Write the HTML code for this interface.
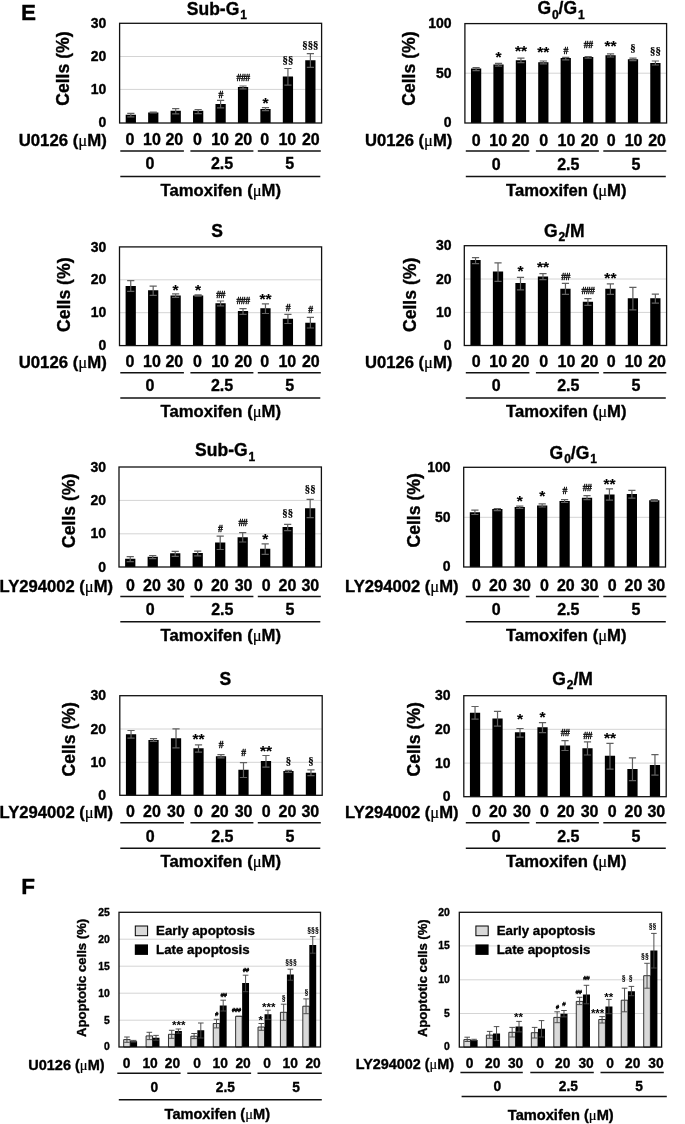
<!DOCTYPE html>
<html lang="en"><head><meta charset="utf-8"><title>Figure E-F</title>
<style>
html,body{margin:0;padding:0;background:#fff}
svg{display:block;will-change:transform;transform:translateZ(0)}
text{font-family:"Liberation Sans", sans-serif;font-weight:700;fill:#000;stroke:#000;stroke-width:.35;stroke-linejoin:round}
.b{fill:#000}
.gb{fill:#d9d9d9;stroke:#000;stroke-width:.8}
.e{fill:none;stroke:#606060;stroke-width:1.2}
.ef{fill:none;stroke:#484848;stroke-width:.95}
.g{fill:none;stroke:#d4d4d4;stroke-width:1}
.f{fill:none;stroke:#111;stroke-width:1.3}
.u{fill:none;stroke:#111;stroke-width:1.5}
.yt{font-size:14px;text-anchor:end}
.yf{font-size:10.4px;text-anchor:end}
.cl{font-size:17.6px;text-anchor:middle}
.al{font-size:13.1px;text-anchor:middle}
.t{font-size:17.5px}
.sub{font-size:12px}
.pl{font-size:22.5px}
.xl{font-size:16px}
.xn{font-size:16px}
.xf{font-size:14.2px}
.xfn{font-size:13.8px}
.m{text-anchor:middle}
.mu{font-family:"Liberation Serif", serif;font-weight:400;stroke-width:.2}
.a{font-size:15.5px;text-anchor:middle;stroke-width:.1}
.as{font-size:11.5px;text-anchor:middle;stroke-width:0}
.h{font-family:"Liberation Serif", serif;font-size:9.8px;text-anchor:middle;stroke-width:.3;letter-spacing:-.6px}
.hs{font-size:5.9px;text-anchor:middle;fill:#000;stroke-width:.35;letter-spacing:-.3px;font-style:italic}
.s{font-family:"Liberation Serif", serif;font-size:10.8px;text-anchor:middle;stroke-width:.2}
.ss{font-family:"Liberation Serif", serif;font-size:7.8px;text-anchor:middle;stroke-width:.15}
.lt{font-size:13px}
.lg{fill:#d9d9d9;stroke:#000;stroke-width:1}
.lb{fill:#000}
</style></head>
<body>
<svg width="685" height="1124" viewBox="0 0 685 1124">
<rect width="685" height="1124" fill="#fff"/>
<path class="g" d="M119.6 56.5H321.6"/>
<path class="g" d="M119.6 89.4H321.6"/>
<path class="b" d="M125.7 123H135.95V114.8H125.7ZM148.14 123H158.39V112.4H148.14ZM170.59 123H180.84V110.8H170.59ZM193.03 123H203.28V110.8H193.03ZM215.48 123H225.73V104.1H215.48ZM237.92 123H248.17V87.1H237.92ZM260.36 123H270.61V109H260.36ZM282.81 123H293.06V76.4H282.81ZM305.25 123H315.5V60.3H305.25Z"/>
<path class="e" d="M127.22 113.3H134.42M127.22 116.8H134.42M130.82 113.3V116.8"/>
<path class="e" d="M149.67 112H156.87M149.67 112.9H156.87M153.27 112V112.9"/>
<path class="e" d="M172.11 108.7H179.31M172.11 113.9H179.31M175.71 108.7V113.9"/>
<path class="e" d="M194.56 109.5H201.76M194.56 113.6H201.76M198.16 109.5V113.6"/>
<path class="e" d="M217 100.4H224.2M217 107.9H224.2M220.6 100.4V107.9"/>
<path class="e" d="M239.44 86H246.64M239.44 88.9H246.64M243.04 86V88.9"/>
<path class="e" d="M261.89 107.6H269.09M261.89 110.7H269.09M265.49 107.6V110.7"/>
<path class="e" d="M284.33 68.5H291.53M284.33 85.2H291.53M287.93 68.5V85.2"/>
<path class="e" d="M306.78 53.6H313.98M306.78 67.3H313.98M310.38 53.6V67.3"/>
<rect class="f" x="119.6" y="23.3" width="202" height="99.7"/>
<text class="h" x="220.6" y="97.8">#</text>
<text class="h" x="243.04" y="80.6">###</text>
<text class="a" x="265.49" y="108.4">*</text>
<text class="s" x="287.93" y="63.2">§§</text>
<text class="s" x="310.38" y="48.2">§§§</text>
<path class="g" d="M464.9 73.2H666.6"/>
<path class="b" d="M470.98 123H481.23V68.6H470.98ZM493.39 123H503.64V64.6H493.39ZM515.8 123H526.05V60.2H515.8ZM538.21 123H548.46V62.2H538.21ZM560.62 123H570.88V58.1H560.62ZM583.04 123H593.29V57H583.04ZM605.45 123H615.7V55.3H605.45ZM627.86 123H638.11V59.3H627.86ZM650.27 123H660.52V63H650.27Z"/>
<path class="e" d="M472.51 67.5H479.71M472.51 70.7H479.71M476.11 67.5V70.7"/>
<path class="e" d="M494.92 63.4H502.12M494.92 66.2H502.12M498.52 63.4V66.2"/>
<path class="e" d="M517.33 58.1H524.53M517.33 62.6H524.53M520.93 58.1V62.6"/>
<path class="e" d="M539.74 61H546.94M539.74 63.8H546.94M543.34 61V63.8"/>
<path class="e" d="M562.15 57.3H569.35M562.15 59.8H569.35M565.75 57.3V59.8"/>
<path class="e" d="M584.56 56.5H591.76M584.56 58.1H591.76M588.16 56.5V58.1"/>
<path class="e" d="M606.97 53.8H614.17M606.97 57H614.17M610.57 53.8V57"/>
<path class="e" d="M629.38 58.1H636.58M629.38 60.6H636.58M632.98 58.1V60.6"/>
<path class="e" d="M651.79 61H658.99M651.79 65H658.99M655.39 61V65"/>
<rect class="f" x="464.9" y="23.6" width="201.7" height="99.4"/>
<text class="a" x="498.52" y="62.1">*</text>
<text class="a" x="520.93" y="56.2">**</text>
<text class="a" x="543.34" y="56.5">**</text>
<text class="h" x="565.75" y="53.6">#</text>
<text class="h" x="588.16" y="48.3">##</text>
<text class="a" x="610.57" y="50.9">**</text>
<text class="s" x="632.98" y="50.8">§</text>
<text class="s" x="655.39" y="53.7">§§</text>
<path class="g" d="M119.5 279.8H321.6"/>
<path class="g" d="M119.5 312.7H321.6"/>
<path class="b" d="M125.6 345.6H135.85V286.1H125.6ZM148.06 345.6H158.31V290.3H148.06ZM170.51 345.6H180.76V295.4H170.51ZM192.97 345.6H203.22V295.4H192.97ZM215.43 345.6H225.68V303.2H215.43ZM237.88 345.6H248.13V311.1H237.88ZM260.34 345.6H270.59V308.2H260.34ZM282.79 345.6H293.04V318.7H282.79ZM305.25 345.6H315.5V322.7H305.25Z"/>
<path class="e" d="M127.13 280.6H134.33M127.13 291.4H134.33M130.73 280.6V291.4"/>
<path class="e" d="M149.58 286.1H156.78M149.58 295.4H156.78M153.18 286.1V295.4"/>
<path class="e" d="M172.04 293.8H179.24M172.04 297.3H179.24M175.64 293.8V297.3"/>
<path class="e" d="M194.49 294.9H201.69M194.49 296.2H201.69M198.09 294.9V296.2"/>
<path class="e" d="M216.95 301H224.15M216.95 305.8H224.15M220.55 301V305.8"/>
<path class="e" d="M239.41 308.6H246.61M239.41 314.4H246.61M243.01 308.6V314.4"/>
<path class="e" d="M261.86 303.8H269.06M261.86 313.5H269.06M265.46 303.8V313.5"/>
<path class="e" d="M284.32 314.4H291.52M284.32 323.5H291.52M287.92 314.4V323.5"/>
<path class="e" d="M306.77 317.4H313.97M306.77 328H313.97M310.37 317.4V328"/>
<rect class="f" x="119.5" y="246.9" width="202.1" height="98.7"/>
<text class="a" x="175.64" y="294.6">*</text>
<text class="a" x="198.09" y="294.6">*</text>
<text class="h" x="220.55" y="297.6">##</text>
<text class="h" x="243.01" y="303.7">###</text>
<text class="a" x="265.46" y="304.2">**</text>
<text class="h" x="287.92" y="310.9">#</text>
<text class="h" x="310.37" y="312.5">#</text>
<path class="g" d="M464.3 279H666.6"/>
<path class="g" d="M464.3 312.4H666.6"/>
<path class="b" d="M470.41 345.5H480.66V260.1H470.41ZM492.89 345.5H503.14V271.6H492.89ZM515.37 345.5H525.62V283H515.37ZM537.85 345.5H548.1V276.5H537.85ZM560.33 345.5H570.58V288.7H560.33ZM582.8 345.5H593.05V301.8H582.8ZM605.28 345.5H615.53V288.7H605.28ZM627.76 345.5H638.01V298.3H627.76ZM650.24 345.5H660.49V298.3H650.24Z"/>
<path class="e" d="M471.94 257.7H479.14M471.94 263.6H479.14M475.54 257.7V263.6"/>
<path class="e" d="M494.42 262.8H501.62M494.42 281.4H501.62M498.02 262.8V281.4"/>
<path class="e" d="M516.89 277.3H524.09M516.89 289.8H524.09M520.49 277.3V289.8"/>
<path class="e" d="M539.37 273.7H546.57M539.37 279.7H546.57M542.97 273.7V279.7"/>
<path class="e" d="M561.85 283.4H569.05M561.85 294.3H569.05M565.45 283.4V294.3"/>
<path class="e" d="M584.33 298.6H591.53M584.33 305.4H591.53M587.93 298.6V305.4"/>
<path class="e" d="M606.81 283.8H614.01M606.81 294.3H614.01M610.41 283.8V294.3"/>
<path class="e" d="M629.28 287.4H636.48M629.28 309.9H636.48M632.88 287.4V309.9"/>
<path class="e" d="M651.76 294.1H658.96M651.76 303.1H658.96M655.36 294.1V303.1"/>
<rect class="f" x="464.3" y="245.7" width="202.3" height="99.8"/>
<text class="a" x="520.49" y="276.1">*</text>
<text class="a" x="542.97" y="272.4">**</text>
<text class="h" x="565.45" y="280.1">##</text>
<text class="h" x="587.93" y="293.6">###</text>
<text class="a" x="610.41" y="282.5">**</text>
<path class="g" d="M119 500.4H321.4"/>
<path class="g" d="M119 533.8H321.4"/>
<path class="b" d="M125.12 567H135.37V558.8H125.12ZM147.61 567H157.86V556.7H147.61ZM170.1 567H180.35V553.2H170.1ZM192.59 567H202.84V553.1H192.59ZM215.07 567H225.32V542.6H215.07ZM237.56 567H247.81V537.2H237.56ZM260.05 567H270.3V548.7H260.05ZM282.54 567H292.79V527H282.54ZM305.03 567H315.28V508.3H305.03Z"/>
<path class="e" d="M126.64 556.7H133.84M126.64 561.6H133.84M130.24 556.7V561.6"/>
<path class="e" d="M149.13 555.5H156.33M149.13 558.7H156.33M152.73 555.5V558.7"/>
<path class="e" d="M171.62 551.4H178.82M171.62 556.3H178.82M175.22 551.4V556.3"/>
<path class="e" d="M194.11 551.1H201.31M194.11 555.9H201.31M197.71 551.1V555.9"/>
<path class="e" d="M216.6 536.2H223.8M216.6 549.5H223.8M220.2 536.2V549.5"/>
<path class="e" d="M239.09 532.7H246.29M239.09 542H246.29M242.69 532.7V542"/>
<path class="e" d="M261.58 543.9H268.78M261.58 554.3H268.78M265.18 543.9V554.3"/>
<path class="e" d="M284.07 524.3H291.27M284.07 530.6H291.27M287.67 524.3V530.6"/>
<path class="e" d="M306.56 499.3H313.76M306.56 517.7H313.76M310.16 499.3V517.7"/>
<rect class="f" x="119" y="467" width="202.4" height="100"/>
<text class="h" x="220.2" y="531.8">#</text>
<text class="h" x="242.69" y="526">##</text>
<text class="a" x="265.18" y="544.2">*</text>
<text class="s" x="287.67" y="515.8">§§</text>
<text class="s" x="310.16" y="492.1">§§</text>
<path class="g" d="M463.7 517.3H665.5"/>
<path class="b" d="M469.79 567H480.04V512.3H469.79ZM492.21 567H502.46V509.1H492.21ZM514.63 567H524.88V507H514.63ZM537.05 567H547.3V505.4H537.05ZM559.48 567H569.73V501H559.48ZM581.9 567H592.15V497.7H581.9ZM604.32 567H614.57V494.4H604.32ZM626.74 567H636.99V494.1H626.74ZM649.16 567H659.41V500.2H649.16Z"/>
<path class="e" d="M471.31 510.2H478.51M471.31 514.5H478.51M474.91 510.2V514.5"/>
<path class="e" d="M493.73 508.6H500.93M493.73 510.7H500.93M497.33 508.6V510.7"/>
<path class="e" d="M516.16 506.2H523.36M516.16 508.3H523.36M519.76 506.2V508.3"/>
<path class="e" d="M538.58 503.8H545.78M538.58 507H545.78M542.18 503.8V507"/>
<path class="e" d="M561 499.7H568.2M561 502.5H568.2M564.6 499.7V502.5"/>
<path class="e" d="M583.42 495.7H590.62M583.42 499.7H590.62M587.02 495.7V499.7"/>
<path class="e" d="M605.84 488.8H613.04M605.84 500.2H613.04M609.44 488.8V500.2"/>
<path class="e" d="M628.27 490.4H635.47M628.27 498.1H635.47M631.87 490.4V498.1"/>
<path class="e" d="M650.69 499.7H657.89M650.69 501.3H657.89M654.29 499.7V501.3"/>
<rect class="f" x="463.7" y="467.3" width="201.8" height="99.7"/>
<text class="a" x="519.76" y="506.1">*</text>
<text class="a" x="542.18" y="500.5">*</text>
<text class="h" x="564.6" y="494.4">#</text>
<text class="h" x="587.02" y="491.2">##</text>
<text class="a" x="609.44" y="489.3">**</text>
<path class="g" d="M119.8 729H322.2"/>
<path class="g" d="M119.8 762.3H322.2"/>
<path class="b" d="M125.92 795.3H136.17V734.2H125.92ZM148.41 795.3H158.66V740.1H148.41ZM170.9 795.3H181.15V738.2H170.9ZM193.39 795.3H203.64V748.3H193.39ZM215.88 795.3H226.12V756.2H215.88ZM238.36 795.3H248.61V769.8H238.36ZM260.85 795.3H271.1V761.1H260.85ZM283.34 795.3H293.59V771.1H283.34ZM305.83 795.3H316.08V772.7H305.83Z"/>
<path class="e" d="M127.44 730.5H134.64M127.44 738.2H134.64M131.04 730.5V738.2"/>
<path class="e" d="M149.93 738.7H157.13M149.93 741.4H157.13M153.53 738.7V741.4"/>
<path class="e" d="M172.42 728.9H179.62M172.42 747.8H179.62M176.02 728.9V747.8"/>
<path class="e" d="M194.91 744.9H202.11M194.91 752.1H202.11M198.51 744.9V752.1"/>
<path class="e" d="M217.4 754.7H224.6M217.4 757.9H224.6M221 754.7V757.9"/>
<path class="e" d="M239.89 762.6H247.09M239.89 777.5H247.09M243.49 762.6V777.5"/>
<path class="e" d="M262.38 755.5H269.58M262.38 767.1H269.58M265.98 755.5V767.1"/>
<path class="e" d="M284.87 770.3H292.07M284.87 772.4H292.07M288.47 770.3V772.4"/>
<path class="e" d="M307.36 769.8H314.56M307.36 775.6H314.56M310.96 769.8V775.6"/>
<rect class="f" x="119.8" y="695.7" width="202.4" height="99.6"/>
<text class="a" x="198.51" y="744.1">**</text>
<text class="h" x="221" y="747.8">#</text>
<text class="h" x="243.49" y="756.1">#</text>
<text class="a" x="265.98" y="756.3">**</text>
<text class="s" x="288.47" y="763.9">§</text>
<text class="s" x="310.96" y="764.2">§</text>
<path class="g" d="M463.8 729.3H666.2"/>
<path class="g" d="M463.8 763.1H666.2"/>
<path class="b" d="M469.92 796.7H480.17V712.8H469.92ZM492.41 796.7H502.66V718.6H492.41ZM514.9 796.7H525.15V732.2H514.9ZM537.39 796.7H547.64V727.3H537.39ZM559.88 796.7H570.12V745.4H559.88ZM582.36 796.7H592.61V748.3H582.36ZM604.85 796.7H615.1V755.8H604.85ZM627.34 796.7H637.59V769H627.34ZM649.83 796.7H660.08V765H649.83Z"/>
<path class="e" d="M471.44 706.5H478.64M471.44 719.2H478.64M475.04 706.5V719.2"/>
<path class="e" d="M493.93 711.4H501.13M493.93 726.1H501.13M497.53 711.4V726.1"/>
<path class="e" d="M516.42 728.5H523.62M516.42 737.1H523.62M520.02 728.5V737.1"/>
<path class="e" d="M538.91 722.6H546.11M538.91 732.6H546.11M542.51 722.6V732.6"/>
<path class="e" d="M561.4 740.6H568.6M561.4 750.5H568.6M565 740.6V750.5"/>
<path class="e" d="M583.89 741.9H591.09M583.89 755H591.09M587.49 741.9V755"/>
<path class="e" d="M606.38 743.3H613.58M606.38 769.2H613.58M609.98 743.3V769.2"/>
<path class="e" d="M628.87 757.9H636.07M628.87 780.7H636.07M632.47 757.9V780.7"/>
<path class="e" d="M651.36 754.7H658.56M651.36 775.1H658.56M654.96 754.7V775.1"/>
<rect class="f" x="463.8" y="695.7" width="202.4" height="101"/>
<text class="a" x="520.02" y="724.2">*</text>
<text class="a" x="542.51" y="722.1">*</text>
<text class="h" x="565" y="736">##</text>
<text class="h" x="587.49" y="738.5">##</text>
<text class="a" x="609.98" y="742.6">**</text>
<text class="yt" x="106.3" y="27.9">30</text>
<text class="yt" x="106.3" y="61.1">20</text>
<text class="yt" x="106.3" y="94">10</text>
<text class="yt" x="106.3" y="127.2">0</text>
<text class="yt" x="451.5" y="27.9">100</text>
<text class="yt" x="451.5" y="77.8">50</text>
<text class="yt" x="451.5" y="127.2">0</text>
<text class="yt" x="106.3" y="251.5">30</text>
<text class="yt" x="106.3" y="284.4">20</text>
<text class="yt" x="106.3" y="317.3">10</text>
<text class="yt" x="106.3" y="350.3">0</text>
<text class="yt" x="451.5" y="250.2">30</text>
<text class="yt" x="451.5" y="283.6">20</text>
<text class="yt" x="451.5" y="317">10</text>
<text class="yt" x="451.5" y="350.3">0</text>
<text class="yt" x="106" y="471.6">30</text>
<text class="yt" x="106" y="505">20</text>
<text class="yt" x="106" y="538.4">10</text>
<text class="yt" x="106" y="571.5">0</text>
<text class="yt" x="450.5" y="471.5">100</text>
<text class="yt" x="450.5" y="521.5">50</text>
<text class="yt" x="450.5" y="571.4">0</text>
<text class="yt" x="106" y="700.2">30</text>
<text class="yt" x="106" y="733.6">20</text>
<text class="yt" x="106" y="766.9">10</text>
<text class="yt" x="106" y="800.1">0</text>
<text class="yt" x="450.5" y="700.2">30</text>
<text class="yt" x="450.5" y="733.9">20</text>
<text class="yt" x="450.5" y="767.7">10</text>
<text class="yt" x="450.5" y="800.6">0</text>
<text class="cl" transform="translate(69.4 68.6) rotate(-90)" textLength="74.4" lengthAdjust="spacingAndGlyphs">Cells (%)</text>
<text class="cl" transform="translate(414.7 68.6) rotate(-90)" textLength="74.4" lengthAdjust="spacingAndGlyphs">Cells (%)</text>
<text class="cl" transform="translate(69.6 294.7) rotate(-90)" textLength="74.4" lengthAdjust="spacingAndGlyphs">Cells (%)</text>
<text class="cl" transform="translate(415.6 294.9) rotate(-90)" textLength="74.4" lengthAdjust="spacingAndGlyphs">Cells (%)</text>
<text class="cl" transform="translate(75 510.8) rotate(-90)" textLength="74.4" lengthAdjust="spacingAndGlyphs">Cells (%)</text>
<text class="cl" transform="translate(420.3 510.4) rotate(-90)" textLength="74.4" lengthAdjust="spacingAndGlyphs">Cells (%)</text>
<text class="cl" transform="translate(75 739.4) rotate(-90)" textLength="74.4" lengthAdjust="spacingAndGlyphs">Cells (%)</text>
<text class="cl" transform="translate(420.3 739.4) rotate(-90)" textLength="74.4" lengthAdjust="spacingAndGlyphs">Cells (%)</text>
<text class="t" x="186.8" y="14.6">Sub-G<tspan class="sub" dx="0.9" dy="4.3">1</tspan><tspan dy="-4.3" font-size="1">​</tspan></text>
<text class="t" x="537.4" y="14.3">G<tspan class="sub" dx="0.9" dy="4.3">0</tspan><tspan dy="-4.3" font-size="1">​</tspan>/G<tspan class="sub" dx="0.9" dy="4.3">1</tspan><tspan dy="-4.3" font-size="1">​</tspan></text>
<text class="t" x="211.3" y="236.7">S</text>
<text class="t" x="543.9" y="236.6">G<tspan class="sub" dx="0.9" dy="4.3">2</tspan><tspan dy="-4.3" font-size="1">​</tspan>/M</text>
<text class="t" x="195.1" y="456.2">Sub-G<tspan class="sub" dx="0.9" dy="4.3">1</tspan><tspan dy="-4.3" font-size="1">​</tspan></text>
<text class="t" x="549.6" y="459.1">G<tspan class="sub" dx="0.9" dy="4.3">0</tspan><tspan dy="-4.3" font-size="1">​</tspan>/G<tspan class="sub" dx="0.9" dy="4.3">1</tspan><tspan dy="-4.3" font-size="1">​</tspan></text>
<text class="t" x="219.5" y="684.9">S</text>
<text class="t" x="552.3" y="684.5">G<tspan class="sub" dx="0.9" dy="4.3">2</tspan><tspan dy="-4.3" font-size="1">​</tspan>/M</text>
<text class="pl" x="21.0" y="20.0">E</text>
<text class="pl" x="21.2" y="893.7">F</text>
<text class="xl" x="18.7" y="145.9" textLength="88.1" lengthAdjust="spacingAndGlyphs">U0126 (<tspan class="mu">μ</tspan>M)</text>
<text class="xn m" x="130" y="145">0</text>
<text class="xn m" x="151.9" y="145">10</text>
<text class="xn m" x="174.3" y="145">20</text>
<text class="xn m" x="197.5" y="145">0</text>
<text class="xn m" x="220.1" y="145">10</text>
<text class="xn m" x="243.3" y="145">20</text>
<text class="xn m" x="264.8" y="145">0</text>
<text class="xn m" x="287.3" y="145">10</text>
<text class="xn m" x="310.8" y="145">20</text>
<path class="u" d="M120.3 151H183.9"/>
<path class="u" d="M190.4 151H253.4"/>
<path class="u" d="M257.8 151H320.8"/>
<text class="xn m" x="150" y="169.4">0</text>
<text class="xn m" x="222" y="169.4">2.5</text>
<text class="xn m" x="289.6" y="169.4">5</text>
<path class="u" d="M120.3 176.4H320.3"/>
<text class="xl" x="160.6" y="195.6" textLength="120.4" lengthAdjust="spacingAndGlyphs">Tamoxifen (<tspan class="mu">μ</tspan>M)</text>
<text class="xl" x="365" y="146.4" textLength="87.3" lengthAdjust="spacingAndGlyphs">U0126 (<tspan class="mu">μ</tspan>M)</text>
<text class="xn m" x="476.3" y="145.5">0</text>
<text class="xn m" x="498.2" y="145.5">10</text>
<text class="xn m" x="520.6" y="145.5">20</text>
<text class="xn m" x="543.8" y="145.5">0</text>
<text class="xn m" x="566.4" y="145.5">10</text>
<text class="xn m" x="589.6" y="145.5">20</text>
<text class="xn m" x="611.1" y="145.5">0</text>
<text class="xn m" x="633.6" y="145.5">10</text>
<text class="xn m" x="657.1" y="145.5">20</text>
<path class="u" d="M465.8 151H529.4"/>
<path class="u" d="M535.9 151H598.9"/>
<path class="u" d="M603.3 151H666.3"/>
<text class="xn m" x="496.3" y="169.9">0</text>
<text class="xn m" x="568.3" y="169.9">2.5</text>
<text class="xn m" x="635.9" y="169.9">5</text>
<path class="u" d="M465.8 176.4H665.8"/>
<text class="xl" x="506.1" y="195.6" textLength="120.4" lengthAdjust="spacingAndGlyphs">Tamoxifen (<tspan class="mu">μ</tspan>M)</text>
<text class="xl" x="18.7" y="367.6" textLength="88.1" lengthAdjust="spacingAndGlyphs">U0126 (<tspan class="mu">μ</tspan>M)</text>
<text class="xn m" x="130" y="366.7">0</text>
<text class="xn m" x="151.9" y="366.7">10</text>
<text class="xn m" x="174.3" y="366.7">20</text>
<text class="xn m" x="197.5" y="366.7">0</text>
<text class="xn m" x="220.1" y="366.7">10</text>
<text class="xn m" x="243.3" y="366.7">20</text>
<text class="xn m" x="264.8" y="366.7">0</text>
<text class="xn m" x="287.3" y="366.7">10</text>
<text class="xn m" x="310.8" y="366.7">20</text>
<path class="u" d="M120.3 372.7H183.9"/>
<path class="u" d="M190.4 372.7H253.4"/>
<path class="u" d="M257.8 372.7H320.8"/>
<text class="xn m" x="150" y="391.1">0</text>
<text class="xn m" x="222" y="391.1">2.5</text>
<text class="xn m" x="289.6" y="391.1">5</text>
<path class="u" d="M120.3 398.1H320.3"/>
<text class="xl" x="160.6" y="417.3" textLength="120.4" lengthAdjust="spacingAndGlyphs">Tamoxifen (<tspan class="mu">μ</tspan>M)</text>
<text class="xl" x="365" y="367.8" textLength="87.3" lengthAdjust="spacingAndGlyphs">U0126 (<tspan class="mu">μ</tspan>M)</text>
<text class="xn m" x="476.3" y="366.9">0</text>
<text class="xn m" x="498.2" y="366.9">10</text>
<text class="xn m" x="520.6" y="366.9">20</text>
<text class="xn m" x="543.8" y="366.9">0</text>
<text class="xn m" x="566.4" y="366.9">10</text>
<text class="xn m" x="589.6" y="366.9">20</text>
<text class="xn m" x="611.1" y="366.9">0</text>
<text class="xn m" x="633.6" y="366.9">10</text>
<text class="xn m" x="657.1" y="366.9">20</text>
<path class="u" d="M465.8 372.7H529.4"/>
<path class="u" d="M535.9 372.7H598.9"/>
<path class="u" d="M603.3 372.7H666.3"/>
<text class="xn m" x="496.3" y="391.3">0</text>
<text class="xn m" x="568.3" y="391.3">2.5</text>
<text class="xn m" x="635.9" y="391.3">5</text>
<path class="u" d="M465.8 398.1H665.8"/>
<text class="xl" x="506.1" y="417.3" textLength="120.4" lengthAdjust="spacingAndGlyphs">Tamoxifen (<tspan class="mu">μ</tspan>M)</text>
<text class="xl" x="-0.4" y="591.8" textLength="113.4" lengthAdjust="spacingAndGlyphs">LY294002 (<tspan class="mu">μ</tspan>M)</text>
<text class="xn m" x="130.4" y="590.9">0</text>
<text class="xn m" x="152" y="590.9">20</text>
<text class="xn m" x="176" y="590.9">30</text>
<text class="xn m" x="198.4" y="590.9">0</text>
<text class="xn m" x="219.8" y="590.9">20</text>
<text class="xn m" x="243.6" y="590.9">30</text>
<text class="xn m" x="266.2" y="590.9">0</text>
<text class="xn m" x="287.5" y="590.9">20</text>
<text class="xn m" x="310.3" y="590.9">30</text>
<path class="u" d="M120.3 596.4H183.9"/>
<path class="u" d="M190.4 596.4H253.4"/>
<path class="u" d="M257.8 596.4H320.8"/>
<text class="xn m" x="150.3" y="615.3">0</text>
<text class="xn m" x="222.3" y="615.3">2.5</text>
<text class="xn m" x="289.9" y="615.3">5</text>
<path class="u" d="M120.3 621.8H320.3"/>
<text class="xl" x="160.6" y="641" textLength="120.4" lengthAdjust="spacingAndGlyphs">Tamoxifen (<tspan class="mu">μ</tspan>M)</text>
<text class="xl" x="345" y="591.9" textLength="113.6" lengthAdjust="spacingAndGlyphs">LY294002 (<tspan class="mu">μ</tspan>M)</text>
<text class="xn m" x="476.4" y="591">0</text>
<text class="xn m" x="498" y="591">20</text>
<text class="xn m" x="522" y="591">30</text>
<text class="xn m" x="544.4" y="591">0</text>
<text class="xn m" x="565.8" y="591">20</text>
<text class="xn m" x="589.6" y="591">30</text>
<text class="xn m" x="612.2" y="591">0</text>
<text class="xn m" x="633.5" y="591">20</text>
<text class="xn m" x="656.3" y="591">30</text>
<path class="u" d="M465.8 596.4H529.4"/>
<path class="u" d="M535.9 596.4H598.9"/>
<path class="u" d="M603.3 596.4H666.3"/>
<text class="xn m" x="496.3" y="615.4">0</text>
<text class="xn m" x="568.3" y="615.4">2.5</text>
<text class="xn m" x="635.9" y="615.4">5</text>
<path class="u" d="M465.8 621.8H665.8"/>
<text class="xl" x="506.1" y="641" textLength="120.4" lengthAdjust="spacingAndGlyphs">Tamoxifen (<tspan class="mu">μ</tspan>M)</text>
<text class="xl" x="-0.4" y="818" textLength="113.4" lengthAdjust="spacingAndGlyphs">LY294002 (<tspan class="mu">μ</tspan>M)</text>
<text class="xn m" x="130.4" y="817.1">0</text>
<text class="xn m" x="152" y="817.1">20</text>
<text class="xn m" x="176" y="817.1">30</text>
<text class="xn m" x="198.4" y="817.1">0</text>
<text class="xn m" x="219.8" y="817.1">20</text>
<text class="xn m" x="243.6" y="817.1">30</text>
<text class="xn m" x="266.2" y="817.1">0</text>
<text class="xn m" x="287.5" y="817.1">20</text>
<text class="xn m" x="310.3" y="817.1">30</text>
<path class="u" d="M120.3 822.8H183.9"/>
<path class="u" d="M190.4 822.8H253.4"/>
<path class="u" d="M257.8 822.8H320.8"/>
<text class="xn m" x="150.3" y="841.5">0</text>
<text class="xn m" x="222.3" y="841.5">2.5</text>
<text class="xn m" x="289.9" y="841.5">5</text>
<path class="u" d="M120.3 848.2H320.3"/>
<text class="xl" x="160.6" y="867.4" textLength="120.4" lengthAdjust="spacingAndGlyphs">Tamoxifen (<tspan class="mu">μ</tspan>M)</text>
<text class="xl" x="345" y="818" textLength="113.6" lengthAdjust="spacingAndGlyphs">LY294002 (<tspan class="mu">μ</tspan>M)</text>
<text class="xn m" x="476.4" y="817.1">0</text>
<text class="xn m" x="498" y="817.1">20</text>
<text class="xn m" x="522" y="817.1">30</text>
<text class="xn m" x="544.4" y="817.1">0</text>
<text class="xn m" x="565.8" y="817.1">20</text>
<text class="xn m" x="589.6" y="817.1">30</text>
<text class="xn m" x="612.2" y="817.1">0</text>
<text class="xn m" x="633.5" y="817.1">20</text>
<text class="xn m" x="656.3" y="817.1">30</text>
<path class="u" d="M465.8 822.8H529.4"/>
<path class="u" d="M535.9 822.8H598.9"/>
<path class="u" d="M603.3 822.8H666.3"/>
<text class="xn m" x="496.3" y="841.5">0</text>
<text class="xn m" x="568.3" y="841.5">2.5</text>
<text class="xn m" x="635.9" y="841.5">5</text>
<path class="u" d="M465.8 848.2H665.8"/>
<text class="xl" x="506.1" y="867.4" textLength="120.4" lengthAdjust="spacingAndGlyphs">Tamoxifen (<tspan class="mu">μ</tspan>M)</text>
<path class="g" d="M119 939.2H320.5"/>
<path class="g" d="M119 966.2H320.5"/>
<path class="g" d="M119 993.2H320.5"/>
<path class="g" d="M119 1020.2H320.5"/>
<path class="gb" d="M123.69 1047H130.19V1039.6H123.69ZM146.08 1047H152.58V1035.9H146.08ZM168.47 1047H174.97V1034.3H168.47ZM190.86 1047H197.36V1036.2H190.86ZM213.25 1047H219.75V1023.5H213.25ZM235.64 1047H242.14V1016.3H235.64ZM258.03 1047H264.53V1027H258.03ZM280.42 1047H286.92V1012.3H280.42ZM302.81 1047H309.31V1006.2H302.81Z"/>
<path class="b" d="M130.19 1047H137.09V1041.2H130.19ZM152.58 1047H159.48V1037.8H152.58ZM174.97 1047H181.87V1031.1H174.97ZM197.36 1047H204.26V1030.3H197.36ZM219.75 1047H226.65V1005.4H219.75ZM242.14 1047H249.04V982.9H242.14ZM264.53 1047H271.43V1014.2H264.53ZM286.92 1047H293.82V974.4H286.92ZM309.31 1047H316.21V945.1H309.31Z"/>
<path class="ef" d="M124.14 1037H129.74M124.14 1042.3H129.74M126.94 1037V1042.3"/>
<path class="ef" d="M130.84 1040.4H136.44M130.84 1042H136.44M133.64 1040.4V1042"/>
<path class="ef" d="M146.53 1032.3H152.13M146.53 1039.6H152.13M149.33 1032.3V1039.6"/>
<path class="ef" d="M153.23 1035.4H158.83M153.23 1040.2H158.83M156.03 1035.4V1040.2"/>
<path class="ef" d="M168.92 1030.3H174.52M168.92 1038.3H174.52M171.72 1030.3V1038.3"/>
<path class="ef" d="M175.62 1029H181.22M175.62 1033.2H181.22M178.42 1029V1033.2"/>
<path class="ef" d="M191.31 1033.5H196.91M191.31 1038.6H196.91M194.11 1033.5V1038.6"/>
<path class="ef" d="M198.01 1023H203.61M198.01 1038H203.61M200.81 1023V1038"/>
<path class="ef" d="M213.7 1019.3H219.3M213.7 1027.9H219.3M216.5 1019.3V1027.9"/>
<path class="ef" d="M220.4 1000.2H226M220.4 1011H226M223.2 1000.2V1011"/>
<path class="ef" d="M236.09 1016.3H241.69"/>
<path class="ef" d="M242.79 975.2H248.39M242.79 991.7H248.39M245.59 975.2V991.7"/>
<path class="ef" d="M258.48 1023.5H264.08M258.48 1030.3H264.08M261.28 1023.5V1030.3"/>
<path class="ef" d="M265.18 1010.2H270.78M265.18 1019.3H270.78M267.98 1010.2V1019.3"/>
<path class="ef" d="M280.87 1004.2H286.47M280.87 1020.3H286.47M283.67 1004.2V1020.3"/>
<path class="ef" d="M287.57 969.2H293.17M287.57 980.2H293.17M290.37 969.2V980.2"/>
<path class="ef" d="M303.26 998.9H308.86M303.26 1013.7H308.86M306.06 998.9V1013.7"/>
<path class="ef" d="M309.96 936.6H315.56M309.96 953.2H315.56M312.76 936.6V953.2"/>
<rect class="f" x="119" y="912.3" width="201.5" height="134.7"/>
<text class="as" x="178.8" y="1029.3">***</text>
<text class="hs" x="216.5" y="1015.8">#</text>
<text class="hs" x="223.4" y="996.5">##</text>
<text class="hs" x="236.2" y="1011.5">###</text>
<text class="hs" x="245.8" y="972.1">##</text>
<text class="as" x="260.8" y="1024.2">*</text>
<text class="as" x="268.8" y="1010.9">***</text>
<text class="ss" x="283.7" y="1001.4">§</text>
<text class="ss" x="291" y="964.9">§§§</text>
<text class="ss" x="306.5" y="994.6">§</text>
<text class="ss" x="313" y="932.8">§§§</text>
<rect class="lg" x="135.3" y="926" width="12.3" height="9.7"/>
<rect class="lb" x="134.8" y="944.4" width="13.2" height="10.5"/>
<text class="lt" x="156.1" y="934.8" textLength="98.8" lengthAdjust="spacingAndGlyphs">Early apoptosis</text>
<text class="lt" x="156.1" y="954.1" textLength="93.6" lengthAdjust="spacingAndGlyphs">Late apoptosis</text>
<path class="g" d="M459.3 945.9H661.6"/>
<path class="g" d="M459.3 979.8H661.6"/>
<path class="g" d="M459.3 1013.5H661.6"/>
<path class="gb" d="M463.89 1047.1H470.54V1039.6H463.89ZM486.37 1047.1H493.02V1035.1H486.37ZM508.84 1047.1H515.49V1032.3H508.84ZM531.32 1047.1H537.97V1032.7H531.32ZM553.8 1047.1H560.45V1017.4H553.8ZM576.28 1047.1H582.93V1001.4H576.28ZM598.76 1047.1H605.41V1019.5H598.76ZM621.23 1047.1H627.88V1000.2H621.23ZM643.71 1047.1H650.36V975.7H643.71Z"/>
<path class="b" d="M470.54 1047.1H477.59V1039.9H470.54ZM493.02 1047.1H500.07V1033.5H493.02ZM515.49 1047.1H522.54V1026.6H515.49ZM537.97 1047.1H545.02V1028.7H537.97ZM560.45 1047.1H567.5V1013.7H560.45ZM582.93 1047.1H589.98V994.4H582.93ZM605.41 1047.1H612.46V1006.5H605.41ZM627.88 1047.1H634.93V991.2H627.88ZM650.36 1047.1H657.41V950.4H650.36Z"/>
<path class="ef" d="M464.41 1037.2H470.01M464.41 1041.5H470.01M467.21 1037.2V1041.5"/>
<path class="ef" d="M471.26 1039.3H476.86M471.26 1040.6H476.86M474.06 1039.3V1040.6"/>
<path class="ef" d="M486.89 1031.4H492.49M486.89 1038.3H492.49M489.69 1031.4V1038.3"/>
<path class="ef" d="M493.74 1026.6H499.34M493.74 1040.4H499.34M496.54 1026.6V1040.4"/>
<path class="ef" d="M509.37 1027.4H514.97M509.37 1037H514.97M512.17 1027.4V1037"/>
<path class="ef" d="M516.22 1021.4H521.82M516.22 1031.9H521.82M519.02 1021.4V1031.9"/>
<path class="ef" d="M531.85 1027.4H537.45M531.85 1038H537.45M534.65 1027.4V1038"/>
<path class="ef" d="M538.7 1020.6H544.3M538.7 1037H544.3M541.5 1020.6V1037"/>
<path class="ef" d="M554.33 1011.8H559.93M554.33 1022.7H559.93M557.13 1011.8V1022.7"/>
<path class="ef" d="M561.18 1010.5H566.77M561.18 1016.9H566.77M563.98 1010.5V1016.9"/>
<path class="ef" d="M576.8 997.3H582.4M576.8 1004.6H582.4M579.6 997.3V1004.6"/>
<path class="ef" d="M583.65 985.3H589.25M583.65 1003.8H589.25M586.45 985.3V1003.8"/>
<path class="ef" d="M599.28 1016.6H604.88M599.28 1023H604.88M602.08 1016.6V1023"/>
<path class="ef" d="M606.13 999.4H611.73M606.13 1013.7H611.73M608.93 999.4V1013.7"/>
<path class="ef" d="M621.76 988.2H627.36M621.76 1011.8H627.36M624.56 988.2V1011.8"/>
<path class="ef" d="M628.61 986.4H634.21M628.61 995.7H634.21M631.41 986.4V995.7"/>
<path class="ef" d="M644.24 963.3H649.84M644.24 988.2H649.84M647.04 963.3V988.2"/>
<path class="ef" d="M651.09 933.4H656.69M651.09 968H656.69M653.89 933.4V968"/>
<rect class="f" x="459.3" y="912.3" width="202.3" height="134.8"/>
<text class="as" x="518.6" y="1020.5">**</text>
<text class="hs" x="557.2" y="1009.4">#</text>
<text class="hs" x="563.8" y="1006.2">#</text>
<text class="hs" x="578.6" y="994.1">##</text>
<text class="hs" x="586.3" y="979.7">##</text>
<text class="as" x="597.6" y="1017.3">***</text>
<text class="as" x="608.8" y="1000.9">**</text>
<text class="ss" x="623.7" y="981.3">§</text>
<text class="ss" x="630.8" y="981.3">§</text>
<text class="ss" x="644.9" y="959.3">§§</text>
<text class="ss" x="652.6" y="929.2">§§</text>
<rect class="lg" x="475.9" y="926" width="12.3" height="9.7"/>
<rect class="lb" x="475.4" y="944.4" width="13.2" height="10.5"/>
<text class="lt" x="496.7" y="934.8" textLength="98.8" lengthAdjust="spacingAndGlyphs">Early apoptosis</text>
<text class="lt" x="496.7" y="954.1" textLength="93.6" lengthAdjust="spacingAndGlyphs">Late apoptosis</text>
<text class="yf" x="109.7" y="915.7">25</text>
<text class="yf" x="109.7" y="942.6">20</text>
<text class="yf" x="109.7" y="969.6">15</text>
<text class="yf" x="109.7" y="996.6">10</text>
<text class="yf" x="109.7" y="1023.6">5</text>
<text class="yf" x="109.7" y="1050.4">0</text>
<text class="yf" x="449.9" y="915.7">20</text>
<text class="yf" x="449.9" y="949.3">15</text>
<text class="yf" x="449.9" y="983.2">10</text>
<text class="yf" x="449.9" y="1016.9">5</text>
<text class="yf" x="449.9" y="1050.4">0</text>
<text class="al" transform="translate(86.4 977.9) rotate(-90)" textLength="118.3" lengthAdjust="spacingAndGlyphs">Apoptotic cells (%)</text>
<text class="al" transform="translate(426.5 978.2) rotate(-90)" textLength="117.8" lengthAdjust="spacingAndGlyphs">Apoptotic cells (%)</text>
<text class="xf" x="28.2" y="1070.1" textLength="76.4" lengthAdjust="spacingAndGlyphs">U0126 (<tspan class="mu">μ</tspan>M)</text>
<text class="xfn m" x="126.7" y="1068.4">0</text>
<text class="xfn m" x="150.1" y="1068.4">10</text>
<text class="xfn m" x="172.5" y="1068.4">20</text>
<text class="xfn m" x="197.2" y="1068.4">0</text>
<text class="xfn m" x="220.3" y="1068.4">10</text>
<text class="xfn m" x="243.1" y="1068.4">20</text>
<text class="xfn m" x="267.2" y="1068.4">0</text>
<text class="xfn m" x="290.3" y="1068.4">10</text>
<text class="xfn m" x="313.1" y="1068.4">20</text>
<path class="u" d="M117.3 1073.3H180.6"/>
<path class="u" d="M187.3 1073.3H251.1"/>
<path class="u" d="M257.5 1073.3H321.8"/>
<text class="xfn m" x="154.3" y="1091.9">0</text>
<text class="xfn m" x="225.3" y="1091.9">2.5</text>
<text class="xfn m" x="296" y="1091.9">5</text>
<path class="u" d="M118.8 1099.8H321.8"/>
<text class="xf" x="164.6" y="1119" textLength="105.4" lengthAdjust="spacingAndGlyphs">Tamoxifen (<tspan class="mu">μ</tspan>M)</text>
<text class="xf" x="355.7" y="1068.8" textLength="98.4" lengthAdjust="spacingAndGlyphs">LY294002 (<tspan class="mu">μ</tspan>M)</text>
<text class="xfn m" x="469.6" y="1067.6">0</text>
<text class="xfn m" x="492.7" y="1067.6">20</text>
<text class="xfn m" x="515.6" y="1067.6">30</text>
<text class="xfn m" x="540.2" y="1067.6">0</text>
<text class="xfn m" x="562.8" y="1067.6">20</text>
<text class="xfn m" x="586.1" y="1067.6">30</text>
<text class="xfn m" x="610" y="1067.6">0</text>
<text class="xfn m" x="632.8" y="1067.6">20</text>
<text class="xfn m" x="655.9" y="1067.6">30</text>
<path class="u" d="M460.4 1072.5H522.8"/>
<path class="u" d="M530.3 1072.5H593.8"/>
<path class="u" d="M600.5 1072.5H663.8"/>
<text class="xfn m" x="497.4" y="1091.2">0</text>
<text class="xfn m" x="568.3" y="1091.2">2.5</text>
<text class="xfn m" x="639" y="1091.2">5</text>
<path class="u" d="M461.6 1096.6H666.8"/>
<text class="xf" x="507.8" y="1119.7" textLength="105.9" lengthAdjust="spacingAndGlyphs">Tamoxifen (<tspan class="mu">μ</tspan>M)</text>
</svg>
</body></html>
